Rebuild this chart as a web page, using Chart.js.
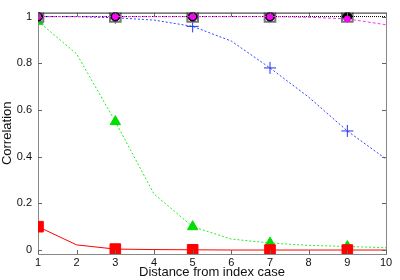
<!DOCTYPE html>
<html>
<head>
<meta charset="utf-8">
<script src="https://cdn.jsdelivr.net/npm/chart.js@4"></script>
<style>
  html, body { margin: 0; padding: 0; background: #fff; }
  #wrap { width: 400px; height: 280px; }
</style>
</head>
<body>
<div id="wrap"><canvas id="corrChart"></canvas></div>
<script>
const distances = [1, 2, 3, 4, 5, 6, 7, 8, 9, 10];
const redVals = [0.10, 0.022, 0.004, 0.002, 0.001, 0.0, 0.0, 0.0, 0.0, 0.0];
const greenVals = [0.98, 0.84, 0.55, 0.24, 0.10, 0.047, 0.03, 0.02, 0.015, 0.01];
const blueVals = [1.0, 1.0, 0.995, 0.985, 0.958, 0.895, 0.78, 0.655, 0.51, 0.39];
const magentaVals = [1.0, 1.0, 1.0, 1.0, 1.0, 1.0, 1.0, 0.997, 0.99, 0.965];
const blackVals = [1, 1, 1, 1, 1, 1, 1, 1, 1, 1];
const yTicks = [0, 0.2, 0.4, 0.6, 0.8, 1];

function pts(vals) {
  return distances.map((d, i) => ({ x: d, y: vals[i] }));
}
// markers only on odd distances
function oddOnly(r) {
  return ctx => (ctx.dataIndex % 2 === 0 ? r : 0);
}

const frame = {
  id: "frame",
  afterDraw(chart) {
    const { ctx, chartArea: a, scales } = chart;
    ctx.save();
    ctx.lineWidth = 1;
    ctx.strokeStyle = "#888";
    ctx.beginPath();
    ctx.moveTo(a.right + 0.5, a.top);
    ctx.lineTo(a.right + 0.5, a.bottom);
    ctx.stroke();
    ctx.strokeStyle = "#222";
    ctx.beginPath();
    ctx.moveTo(a.left, a.top + 0.5);
    ctx.lineTo(a.right, a.top + 0.5);
    ctx.stroke();
    // inward ticks
    ctx.strokeStyle = "#666";
    ctx.beginPath();
    distances.forEach(d => {
      const x = Math.round(scales.x.getPixelForValue(d)) + 0.5;
      ctx.moveTo(x, a.bottom); ctx.lineTo(x, a.bottom - 4);
      ctx.moveTo(x, a.top); ctx.lineTo(x, a.top + 4);
    });
    yTicks.forEach(v => {
      const y = Math.round(scales.y.getPixelForValue(v)) + 0.5;
      ctx.moveTo(a.left, y); ctx.lineTo(a.left + 4, y);
      ctx.moveTo(a.right, y); ctx.lineTo(a.right - 4, y);
    });
    ctx.stroke();
    ctx.restore();
  }
};

new Chart(document.getElementById("corrChart"), {
  type: "line",
  data: {
    datasets: [
      {
        label: "black", data: pts(blackVals), order: 1,
        borderColor: "#000", backgroundColor: "#000", borderWidth: 1,
        borderDash: [1, 1], pointStyle: "circle", pointRadius: oddOnly(4.5),
        pointBorderColor: "#000"
      },
      {
        label: "magenta", data: pts(magentaVals), order: 0,
        borderColor: "#ff33ff", backgroundColor: "#ff00ff", borderWidth: 1,
        borderDash: [3, 2], pointStyle: "circle", pointRadius: oddOnly(3),
        pointBorderColor: "#ff00ff"
      },
      {
        label: "gray", data: pts(blackVals), order: 2,
        borderColor: "rgba(0,0,0,0)", backgroundColor: "rgba(0,0,0,0)",
        pointStyle: "rect", pointRadius: oddOnly(7.5),
        pointBorderColor: "#777", pointBorderWidth: 2
      },
      {
        label: "blue", data: pts(blueVals), order: 3,
        borderColor: "#3344ff", backgroundColor: "#2233ee", borderWidth: 1,
        borderDash: [2, 2], pointStyle: "cross", pointRadius: oddOnly(6),
        pointBorderColor: "#2233ee", pointBorderWidth: 1
      },
      {
        label: "red", data: pts(redVals), order: 4,
        borderColor: "#ff0000", backgroundColor: "#ff0000", borderWidth: 1,
        pointStyle: "rect", pointRadius: oddOnly(7.5),
        pointBorderColor: "#ff0000"
      },
      {
        label: "green", data: pts(greenVals), order: 5,
        borderColor: "#22ee22", backgroundColor: "#00dd00", borderWidth: 1,
        borderDash: [2, 2], pointStyle: "triangle", pointRadius: oddOnly(6),
        pointBorderColor: "#00dd00"
      }
    ]
  },
  options: {
    responsive: true,
    maintainAspectRatio: false,
    animation: false,
    layout: { padding: { top: 10, right: 14, left: 0, bottom: 0 } },
    plugins: { legend: { display: false }, tooltip: { enabled: false } },
    elements: { line: { tension: 0, fill: false } },
    scales: {
      x: {
        type: "linear", min: 1, max: 10,
        afterFit: s => { s.height = 26; },
        afterBuildTicks: s => { s.ticks = distances.map(v => ({ value: v })); },
        grid: { display: false, drawTicks: false },
        border: { color: "#888", width: 1 },
        ticks: { color: "#111", font: { family: "Liberation Sans", size: 11 }, padding: 2, maxRotation: 0 },
        title: {
          display: true, text: "Distance from index case", color: "#111",
          font: { family: "Liberation Sans", size: 13 }, padding: { top: -1, bottom: 0 }
        }
      },
      y: {
        min: -0.017, max: 1.017,
        afterFit: s => { s.width = 38; },
        afterBuildTicks: s => { s.ticks = yTicks.map(v => ({ value: v })); },
        grid: { display: false, drawTicks: false },
        border: { color: "#888", width: 1 },
        ticks: {
          color: "#111", font: { family: "Liberation Sans", size: 11 }, padding: 6,
          callback: v => String(+v.toFixed(1))
        },
        title: {
          display: true, text: "Correlation", color: "#111",
          font: { family: "Liberation Sans", size: 13 }, padding: { top: 0, bottom: 0 }
        }
      }
    }
  },
  plugins: [frame]
});
</script>
</body>
</html>
